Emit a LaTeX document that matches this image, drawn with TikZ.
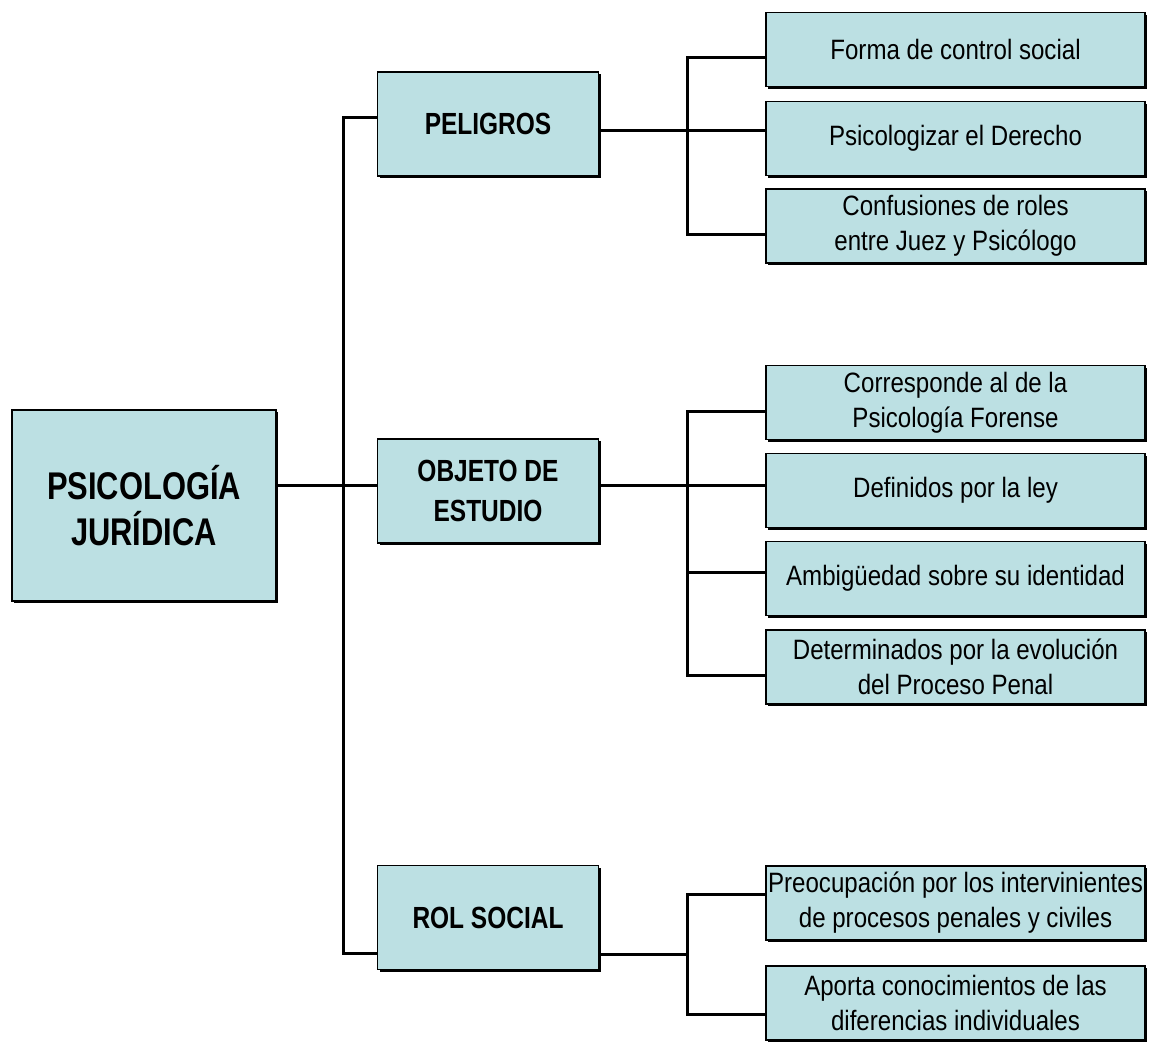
\documentclass[tikz,border=0pt]{standalone}
\usepackage{fontspec}
\usepackage{xcolor}
\usetikzlibrary{shadows}
\newfontfamily\leaffont[FakeStretch=0.86]{Liberation Sans}
\newfontfamily\headfont[FakeStretch=0.80]{Liberation Sans}
\definecolor{boxblue}{RGB}{188,224,227}
\tikzset{
  mapbox/.style={draw=black, line width=0.75pt, fill=boxblue, inner sep=0pt, align=center,
    drop shadow={shadow xshift=1pt, shadow yshift=-1pt, fill=black, opacity=1}},
  rootbox/.style={mapbox, minimum width=132pt, minimum height=95.5pt,
    font=\headfont\bfseries\fontsize{19.3}{23}\selectfont},
  branchbox/.style={mapbox, minimum width=110.5pt, minimum height=52pt,
    font=\headfont\bfseries\fontsize{15.3}{20}\selectfont},
  leafbox/.style={mapbox, minimum width=189.5pt, minimum height=37pt,
    font=\leaffont\fontsize{14}{17.5}\selectfont},
  link/.style={line width=1.5pt}
}
\begin{document}
\begin{tikzpicture}[x=0.5pt,y=-0.5pt]
  % Keep the page the size of the reference
  \useasboundingbox (0,0) rectangle (1161,1046);

  % Root node
  \node[rootbox] (root) at (144,505.5) {PSICOLOGÍA\\JURÍDICA};

  % Branches
  \node[branchbox] (pel) at (488,124) {PELIGROS};
  \node[branchbox] (obj) at (488,491) {OBJETO DE\\ESTUDIO};
  \node[branchbox] (rol) at (488,917.5) {ROL SOCIAL};

  % Leaves of PELIGROS
  \node[leafbox] (forma) at (955.5,49.5) {Forma de control social};
  \node[leafbox] (psicol) at (955.5,138.5) {Psicologizar el Derecho};
  \node[leafbox] (confus) at (955.5,226) {Confusiones de roles\\entre Juez y Psicólogo};

  % Leaves of OBJETO DE ESTUDIO
  \node[leafbox] (corresp) at (955.5,402.5) {Corresponde al de la\\Psicología Forense};
  \node[leafbox] (defin) at (955.5,490.5) {Definidos por la ley};
  \node[leafbox] (ambig) at (955.5,578.5) {Ambigüedad sobre su identidad};
  \node[leafbox] (determ) at (955.5,667) {Determinados por la evolución\\del Proceso Penal};

  % Leaves of ROL SOCIAL
  \node[leafbox] (preoc) at (955.5,903) {Preocupación por los intervinientes\\de procesos penales y civiles};
  \node[leafbox] (aporta) at (955.5,1003) {Aporta conocimientos de las\\diferencias individuales};

  % Root to branches
  \draw[link] ([yshift=10.25pt]root.east) -- ([yshift=3pt]obj.west);
  \draw[link] ([yshift=3.5pt]pel.west) -- ++(-33,0) |- ([yshift=-18pt]rol.west);

  % PELIGROS to its leaves
  \draw[link] ([yshift=-3pt]pel.east) -- ([yshift=4.25pt]psicol.west);
  \draw[link] ([yshift=-3.75pt]forma.west) -- ++(-78,0) |- ([yshift=-4pt]confus.west);

  % OBJETO DE ESTUDIO to its leaves
  \draw[link] ([yshift=3pt]obj.east) -- ([yshift=2.75pt]defin.west);
  \draw[link] ([yshift=-4.25pt]corresp.west) -- ++(-78,0) |- ([yshift=-4pt]determ.west);
  \draw[link] ([yshift=3.25pt]ambig.west) -- ++(-78,0);

  % ROL SOCIAL to its leaves
  \draw[link] ([yshift=-18.25pt]rol.east) -- ++(89,0);
  \draw[link] ([yshift=4.5pt]preoc.west) -- ++(-78,0) |- ([yshift=-5.5pt]aporta.west);
\end{tikzpicture}
\end{document}
